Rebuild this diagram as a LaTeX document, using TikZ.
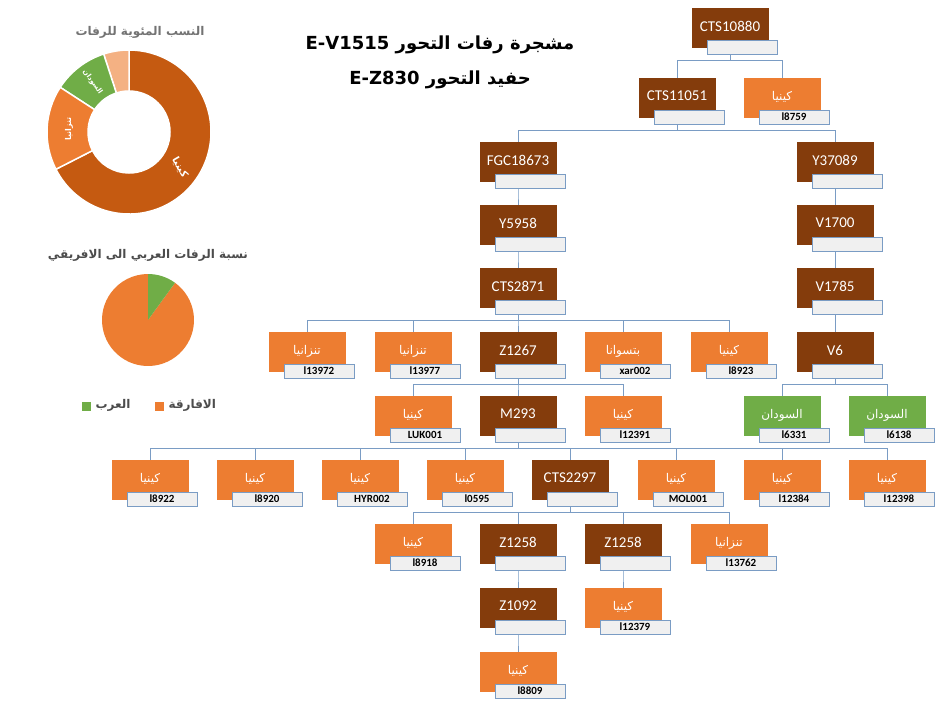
\documentclass[tikz,border=0pt]{standalone}
\usepackage{fontspec}
\setmainfont{Carlito}
\newfontfamily\ar[Script=Arabic]{DejaVu Sans}
\TeXXeTstate=1
\usetikzlibrary{positioning,calc,backgrounds}
\definecolor{brn}{HTML}{843C0C}
\definecolor{org}{HTML}{ED7D31}
\definecolor{grn}{HTML}{70AD47}
\definecolor{kny}{HTML}{C55A11}
\definecolor{lgt}{HTML}{F4B183}
\definecolor{lnk}{HTML}{7A9CC4}
\newcommand\ky{{\ar\beginR كينيا\endR}}
\newcommand\tz{{\ar\beginR تنزانيا\endR}}
\newcommand\bt{{\ar\beginR بتسوانا\endR}}
\newcommand\sd{{\ar\beginR السودان\endR}}
% main box + sample box
\newcommand\hg[6]{%
  \node[#6] (#1) at (#2,#3+18) {#4};
  \node[lab] (#1l) at (#2+12,#3+39) {#5};}
\newcommand\kids[2]{%
  \foreach \c in {#2} \draw[link] (#1.south) -- ++(0,12) -| (\c.north);}
\begin{document}
\begin{tikzpicture}[x=1pt,y=-1pt,
    snp/.style={fill=brn,text=white,minimum width=77pt,minimum height=40pt,inner sep=0pt,yshift=-2pt,text depth=4pt,font=\fontsize{15}{15}\selectfont},
    ctry/.style={snp,fill=org,font=\fontsize{12}{12}\selectfont},
    sdn/.style={snp,fill=grn,font=\fontsize{12}{12}\selectfont},
    lab/.style={fill=black!6,draw=lnk,line width=0.9pt,minimum width=70pt,minimum height=14pt,inner sep=0pt,font=\bfseries\fontsize{11}{11}\selectfont},
    link/.style={draw=lnk,line width=0.8pt}]
\useasboundingbox (0,0) rectangle (942,718);
%Titles
\node[font=\bfseries\fontsize{18}{18}\selectfont] (t1) at (440,45) {\ar\beginR مشجرة رفات التحور \beginL E-V1515\endL\endR};
\node[font=\bfseries\fontsize{18}{18}\selectfont] (t2) at (440,80) {\ar\beginR حفيد التحور \beginL E-Z830\endL\endR};
%Tree
\hg{a}{730}{8}{CTS10880}{}{snp}
\hg{b}{677}{78}{CTS11051}{}{snp}
\hg{b2}{782}{78}{\ky}{l8759}{ctry}
\hg{c}{518}{142}{FGC18673}{}{snp}
\hg{c2}{835}{142}{Y37089}{}{snp}
\hg{d}{518}{205}{Y5958}{}{snp}
\hg{d2}{835}{205}{V1700}{}{snp}
\hg{e}{518}{268}{CTS2871}{}{snp}
\hg{e2}{835}{268}{V1785}{}{snp}
\hg{f1}{307}{332}{\tz}{l13972}{ctry}
\hg{f2}{413}{332}{\tz}{l13977}{ctry}
\hg{f}{518}{332}{Z1267}{}{snp}
\hg{f4}{623}{332}{\bt}{xar002}{ctry}
\hg{f5}{729}{332}{\ky}{l8923}{ctry}
\hg{v6}{835}{332}{V6}{}{snp}
\hg{g1}{413}{396}{\ky}{LUK001}{ctry}
\hg{g}{518}{396}{M293}{}{snp}
\hg{g3}{623}{396}{\ky}{l12391}{ctry}
\hg{s1}{782}{396}{\sd}{l6331}{sdn}
\hg{s2}{887}{396}{\sd}{l6138}{sdn}
\hg{h1}{150}{460}{\ky}{l8922}{ctry}
\hg{h2}{255}{460}{\ky}{l8920}{ctry}
\hg{h3}{360}{460}{\ky}{HYR002}{ctry}
\hg{h4}{465}{460}{\ky}{l0595}{ctry}
\hg{h}{570}{460}{CTS2297}{}{snp}
\hg{h6}{676}{460}{\ky}{MOL001}{ctry}
\hg{h7}{782}{460}{\ky}{l12384}{ctry}
\hg{h8}{887}{460}{\ky}{l12398}{ctry}
\hg{i1}{413}{524}{\ky}{l8918}{ctry}
\hg{i}{518}{524}{Z1258}{}{snp}
\hg{i3}{623}{524}{Z1258}{}{snp}
\hg{i4}{729}{524}{\tz}{l13762}{ctry}
\hg{j}{518}{588}{Z1092}{}{snp}
\hg{j2}{623}{588}{\ky}{l12379}{ctry}
\hg{k}{518}{652}{\ky}{l8809}{ctry}
%Lines
\begin{scope}[on background layer]
\kids{a}{b,b2}
\kids{b}{c,c2}
\kids{c}{d}
\kids{c2}{d2}
\kids{d}{e}
\kids{d2}{e2}
\kids{e}{f1,f2,f,f4,f5}
\kids{e2}{v6}
\kids{v6}{s1,s2}
\kids{f}{g1,g,g3}
\kids{g}{h1,h2,h3,h4,h,h6,h7,h8}
\kids{h}{i1,i,i3,i4}
\kids{i}{j}
\kids{i3}{j2}
\kids{j}{k}
\end{scope}
%Donut
\node[text=black!55,font=\bfseries\fontsize{12}{12}\selectfont] (dt) at (140,32) {\ar\beginR النسب المئوية للرفات\endR};
\begin{scope}[shift={(129,132)},y=1pt]
\foreach \a/\b/\col in {-153/90/kny,90/108/lgt,108/147/grn,147/207/org}
  \fill[\col,draw=white,line width=1.5pt] (\a:82) arc[start angle=\a,end angle=\b,radius=82]
    -- (\b:41) arc[start angle=\b,end angle=\a,radius=41] -- cycle;
\node[white,rotate=-60,font=\bfseries\fontsize{10}{10}\selectfont] (dk) at (-35:62) {\ar\beginR كينيا\endR};
\node[white,rotate=90,font=\bfseries\fontsize{8}{8}\selectfont] (dz) at (177:60) {\ar\beginR تنزانيا\endR};
\node[white,rotate=-55,font=\bfseries\fontsize{7}{7}\selectfont] (ds) at (126:62) {\ar\beginR السودان\endR};
\end{scope}
%Pie
\node[text=black!70,font=\bfseries\fontsize{12}{12}\selectfont] (pt) at (148,255) {\ar\beginR نسبة الرفات العربي الى الافريقي\endR};
\begin{scope}[shift={(148,320)},y=1pt]
\fill[org] (0,0) -- (54:46) arc[start angle=54,end angle=-270,radius=46] -- cycle;
\fill[grn] (0,0) -- (54:46) arc[start angle=54,end angle=90,radius=46] -- cycle;
\end{scope}
\node[fill=org,minimum size=9pt,inner sep=0pt] (lo) at (159,406) {};
\node[anchor=west,text=black!70,font=\bfseries\fontsize{12}{12}\selectfont] (lot) at (165,405) {\ar\beginR الافارقة\endR};
\node[fill=grn,minimum size=9pt,inner sep=0pt] (lg) at (86,406) {};
\node[anchor=west,text=black!70,font=\bfseries\fontsize{12}{12}\selectfont] (lgt) at (92,405) {\ar\beginR العرب\endR};
\end{tikzpicture}
\end{document}
